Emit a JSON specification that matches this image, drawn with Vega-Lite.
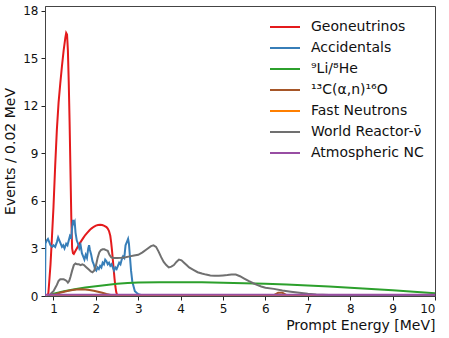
{
  "$schema": "https://vega.github.io/schema/vega-lite/v6.json",
  "autosize": {"type": "none"},
  "width": 390,
  "height": 290,
  "padding": {"left": 45, "top": 6, "right": 14, "bottom": 42},
  "background": "white",
  "config": {
    "font": "DejaVu Sans",
    "view": {"stroke": "#444", "strokeWidth": 1},
    "axis": {"grid": false, "domainColor": "#444", "tickColor": "#222", "labelColor": "#111", "titleColor": "#111", "labelFont": "DejaVu Sans", "titleFont": "DejaVu Sans", "labelFontSize": 12, "titleFontSize": 14, "titleFontWeight": "normal", "tickSize": 4, "labelPadding": 3},
    "legend": {"labelFont": "DejaVu Sans"}
  },
  "datasets": {
    "geo": [
      {"x":0.86,"y":0},{"x":0.88,"y":0.2},{"x":0.90,"y":0.9},{"x":0.93,"y":2.0},{"x":0.96,"y":3.5},{"x":1.00,"y":5.6},{"x":1.04,"y":8.2},{"x":1.08,"y":10.5},{"x":1.12,"y":12.2},{"x":1.16,"y":13.4},{"x":1.20,"y":14.5},{"x":1.24,"y":15.5},{"x":1.28,"y":16.3},{"x":1.30,"y":16.6},{"x":1.32,"y":16.5},{"x":1.34,"y":15.5},{"x":1.36,"y":13.5},{"x":1.38,"y":11.0},{"x":1.40,"y":8.0},{"x":1.42,"y":5.0},{"x":1.44,"y":3.0},{"x":1.46,"y":2.7},{"x":1.48,"y":2.65},{"x":1.52,"y":2.85},{"x":1.56,"y":3.05},{"x":1.60,"y":3.25},{"x":1.65,"y":3.45},{"x":1.70,"y":3.65},{"x":1.75,"y":3.85},{"x":1.80,"y":4.0},{"x":1.85,"y":4.15},{"x":1.90,"y":4.27},{"x":1.95,"y":4.37},{"x":2.00,"y":4.44},{"x":2.05,"y":4.48},{"x":2.10,"y":4.5},{"x":2.15,"y":4.48},{"x":2.20,"y":4.43},{"x":2.25,"y":4.35},{"x":2.28,"y":4.25},{"x":2.31,"y":4.1},{"x":2.34,"y":3.8},{"x":2.36,"y":3.4},{"x":2.38,"y":2.9},{"x":2.40,"y":2.3},{"x":2.42,"y":1.7},{"x":2.44,"y":1.1},{"x":2.46,"y":0.6},{"x":2.48,"y":0.25},{"x":2.50,"y":0.08},{"x":2.53,"y":0.02},{"x":2.6,"y":0},{"x":10,"y":0}
    ],
    "acc": [
      {"x":0.80,"y":0},{"x":0.81,"y":3.3},{"x":0.84,"y":3.5},{"x":0.87,"y":3.6},{"x":0.90,"y":3.4},{"x":0.93,"y":3.2},{"x":0.97,"y":3.1},{"x":1.00,"y":3.2},{"x":1.04,"y":3.1},{"x":1.08,"y":3.4},{"x":1.11,"y":3.7},{"x":1.14,"y":3.5},{"x":1.17,"y":3.3},{"x":1.20,"y":3.1},{"x":1.23,"y":3.2},{"x":1.26,"y":3.0},{"x":1.30,"y":3.3},{"x":1.33,"y":3.2},{"x":1.36,"y":3.5},{"x":1.39,"y":3.8},{"x":1.42,"y":3.7},{"x":1.44,"y":4.3},{"x":1.46,"y":4.8},{"x":1.48,"y":4.6},{"x":1.50,"y":4.7},{"x":1.52,"y":4.0},{"x":1.55,"y":3.5},{"x":1.58,"y":3.3},{"x":1.61,"y":3.0},{"x":1.64,"y":3.2},{"x":1.67,"y":2.7},{"x":1.70,"y":2.5},{"x":1.73,"y":2.3},{"x":1.76,"y":2.6},{"x":1.79,"y":2.4},{"x":1.82,"y":3.0},{"x":1.84,"y":3.2},{"x":1.86,"y":2.9},{"x":1.89,"y":2.6},{"x":1.92,"y":2.2},{"x":1.95,"y":2.0},{"x":1.98,"y":1.7},{"x":2.01,"y":1.6},{"x":2.04,"y":1.8},{"x":2.07,"y":1.7},{"x":2.10,"y":1.9},{"x":2.13,"y":1.8},{"x":2.16,"y":2.1},{"x":2.19,"y":2.0},{"x":2.22,"y":2.3},{"x":2.25,"y":2.2},{"x":2.28,"y":2.0},{"x":2.31,"y":2.1},{"x":2.34,"y":1.9},{"x":2.37,"y":2.0},{"x":2.40,"y":1.8},{"x":2.43,"y":1.6},{"x":2.46,"y":1.8},{"x":2.49,"y":1.7},{"x":2.52,"y":1.9},{"x":2.55,"y":2.1},{"x":2.58,"y":2.0},{"x":2.61,"y":2.3},{"x":2.64,"y":2.5},{"x":2.67,"y":2.4},{"x":2.70,"y":3.2},{"x":2.73,"y":3.4},{"x":2.76,"y":3.6},{"x":2.78,"y":3.3},{"x":2.80,"y":2.6},{"x":2.83,"y":1.6},{"x":2.86,"y":0.9},{"x":2.89,"y":0.6},{"x":2.92,"y":0.3},{"x":2.96,"y":0.2},{"x":3.00,"y":0.12},{"x":3.05,"y":0.08},{"x":3.10,"y":0.05},{"x":3.20,"y":0.03},{"x":3.5,"y":0.02},{"x":10,"y":0.02}
    ],
    "li": [
      {"x":0.85,"y":0.0},{"x":1.0,"y":0.15},{"x":1.25,"y":0.3},{"x":1.5,"y":0.42},{"x":1.75,"y":0.53},{"x":2.0,"y":0.62},{"x":2.25,"y":0.7},{"x":2.5,"y":0.77},{"x":2.75,"y":0.82},{"x":3.0,"y":0.85},{"x":3.5,"y":0.87},{"x":4.0,"y":0.87},{"x":4.5,"y":0.86},{"x":5.0,"y":0.84},{"x":5.5,"y":0.81},{"x":6.0,"y":0.78},{"x":6.5,"y":0.73},{"x":7.0,"y":0.67},{"x":7.5,"y":0.6},{"x":8.0,"y":0.52},{"x":8.5,"y":0.44},{"x":9.0,"y":0.36},{"x":9.5,"y":0.27},{"x":10,"y":0.17}
    ],
    "ca": [
      {"x":0.88,"y":0},{"x":0.95,"y":0.05},{"x":1.05,"y":0.12},{"x":1.15,"y":0.2},{"x":1.25,"y":0.27},{"x":1.35,"y":0.33},{"x":1.45,"y":0.38},{"x":1.55,"y":0.41},{"x":1.65,"y":0.42},{"x":1.75,"y":0.41},{"x":1.85,"y":0.38},{"x":1.95,"y":0.33},{"x":2.05,"y":0.27},{"x":2.15,"y":0.2},{"x":2.25,"y":0.13},{"x":2.35,"y":0.07},{"x":2.45,"y":0.03},{"x":2.55,"y":0.01},{"x":6.0,"y":0.01},{"x":6.2,"y":0.06},{"x":6.3,"y":0.2},{"x":6.4,"y":0.2},{"x":6.5,"y":0.06},{"x":6.6,"y":0.01},{"x":10,"y":0.01}
    ],
    "fn": [
      {"x":0.85,"y":0.0},{"x":0.9,"y":0.03},{"x":10,"y":0.03}
    ],
    "wr": [
      {"x":0.88,"y":0},{"x":0.92,"y":0.1},{"x":0.96,"y":0.2},{"x":1.00,"y":0.3},{"x":1.04,"y":0.5},{"x":1.08,"y":0.7},{"x":1.12,"y":0.95},{"x":1.16,"y":1.05},{"x":1.20,"y":1.05},{"x":1.24,"y":1.05},{"x":1.28,"y":1.0},{"x":1.31,"y":0.95},{"x":1.34,"y":0.85},{"x":1.37,"y":0.95},{"x":1.40,"y":1.2},{"x":1.44,"y":1.6},{"x":1.48,"y":1.95},{"x":1.52,"y":2.05},{"x":1.56,"y":2.0},{"x":1.60,"y":2.0},{"x":1.64,"y":1.95},{"x":1.68,"y":2.0},{"x":1.72,"y":1.95},{"x":1.76,"y":1.85},{"x":1.80,"y":1.75},{"x":1.84,"y":1.65},{"x":1.88,"y":1.55},{"x":1.92,"y":1.5},{"x":1.96,"y":1.6},{"x":2.00,"y":1.9},{"x":2.04,"y":2.4},{"x":2.08,"y":2.75},{"x":2.12,"y":2.9},{"x":2.16,"y":2.95},{"x":2.20,"y":2.95},{"x":2.24,"y":2.9},{"x":2.28,"y":2.85},{"x":2.32,"y":2.6},{"x":2.36,"y":2.45},{"x":2.40,"y":2.4},{"x":2.50,"y":2.4},{"x":2.60,"y":2.42},{"x":2.70,"y":2.45},{"x":2.80,"y":2.5},{"x":2.90,"y":2.55},{"x":3.00,"y":2.6},{"x":3.10,"y":2.75},{"x":3.20,"y":2.95},{"x":3.30,"y":3.15},{"x":3.36,"y":3.2},{"x":3.42,"y":3.1},{"x":3.48,"y":2.8},{"x":3.54,"y":2.45},{"x":3.60,"y":2.15},{"x":3.66,"y":1.95},{"x":3.72,"y":1.8},{"x":3.78,"y":1.85},{"x":3.84,"y":1.95},{"x":3.90,"y":2.15},{"x":3.96,"y":2.3},{"x":4.02,"y":2.25},{"x":4.08,"y":2.1},{"x":4.14,"y":1.95},{"x":4.20,"y":1.8},{"x":4.30,"y":1.65},{"x":4.40,"y":1.5},{"x":4.50,"y":1.42},{"x":4.60,"y":1.35},{"x":4.70,"y":1.3},{"x":4.80,"y":1.28},{"x":4.90,"y":1.28},{"x":5.00,"y":1.3},{"x":5.10,"y":1.32},{"x":5.20,"y":1.35},{"x":5.30,"y":1.35},{"x":5.40,"y":1.25},{"x":5.50,"y":1.1},{"x":5.60,"y":0.95},{"x":5.70,"y":0.82},{"x":5.80,"y":0.7},{"x":5.90,"y":0.6},{"x":6.00,"y":0.52},{"x":6.20,"y":0.45},{"x":6.40,"y":0.35},{"x":6.60,"y":0.27},{"x":6.80,"y":0.2},{"x":7.00,"y":0.14},{"x":7.20,"y":0.1},{"x":7.50,"y":0.06},{"x":8.00,"y":0.04},{"x":10,"y":0.02}
    ],
    "nc": [
      {"x":0.8,"y":0.08},{"x":10,"y":0.08}
    ]
  },
  "layer": [
    {"data": {"name": "geo"}, "transform": [{"calculate": "'Geoneutrinos'", "as": "s"}], "mark": {"type": "line", "clip": true}, "encoding": {}},
    {"data": {"name": "acc"}, "transform": [{"calculate": "'Accidentals'", "as": "s"}], "mark": {"type": "line", "clip": true}, "encoding": {}},
    {"data": {"name": "li"}, "transform": [{"calculate": "'⁹Li/⁸He'", "as": "s"}], "mark": {"type": "line", "clip": true}, "encoding": {}},
    {"data": {"name": "ca"}, "transform": [{"calculate": "'¹³C(α,n)¹⁶O'", "as": "s"}], "mark": {"type": "line", "clip": true}, "encoding": {}},
    {"data": {"name": "fn"}, "transform": [{"calculate": "'Fast Neutrons'", "as": "s"}], "mark": {"type": "line", "clip": true}, "encoding": {}},
    {"data": {"name": "wr"}, "transform": [{"calculate": "'World Reactor-ν̄'", "as": "s"}], "mark": {"type": "line", "clip": true}, "encoding": {}},
    {"data": {"name": "nc"}, "transform": [{"calculate": "'Atmospheric NC'", "as": "s"}], "mark": {"type": "line", "clip": true}, "encoding": {}}
  ],
  "encoding": {
    "x": {"field": "x", "type": "quantitative", "scale": {"domain": [0.8, 10], "nice": false, "zero": false},
      "axis": {"values": [1,2,3,4,5,6,7,8,9,10], "title": "Prompt Energy [MeV]", "titleAnchor": "end", "titlePadding": 4}},
    "y": {"field": "y", "type": "quantitative", "scale": {"domain": [0, 18.3], "nice": false},
      "axis": {"values": [0,3,6,9,12,15,18], "title": "Events / 0.02 MeV", "titlePadding": 5}},
    "color": {"field": "s", "type": "nominal",
      "scale": {"domain": ["Geoneutrinos", "Accidentals", "⁹Li/⁸He", "¹³C(α,n)¹⁶O", "Fast Neutrons", "World Reactor-ν̄", "Atmospheric NC"],
                "range": ["#e41a1c", "#377eb8", "#2ca02c", "#a65628", "#ff7f00", "#707070", "#984ea3"]},
      "legend": {"title": null, "orient": "none", "legendX": 229, "legendY": 10, "symbolType": "M-1.5,0H1.5", "symbolSize": 400, "symbolStrokeWidth": 2, "symbolFillColor": "transparent", "labelFont": "DejaVu Sans", "labelFontSize": 14, "labelLimit": 300, "labelColor": "#111", "rowPadding": 3, "labelOffset": 15}},
    "strokeWidth": {"field": "s", "type": "nominal",
      "scale": {"domain": ["Geoneutrinos", "Accidentals", "⁹Li/⁸He", "¹³C(α,n)¹⁶O", "Fast Neutrons", "World Reactor-ν̄", "Atmospheric NC"],
                "range": [2, 2, 1.8, 2, 1.6, 2.6, 2]}, "legend": null}
  }
}
